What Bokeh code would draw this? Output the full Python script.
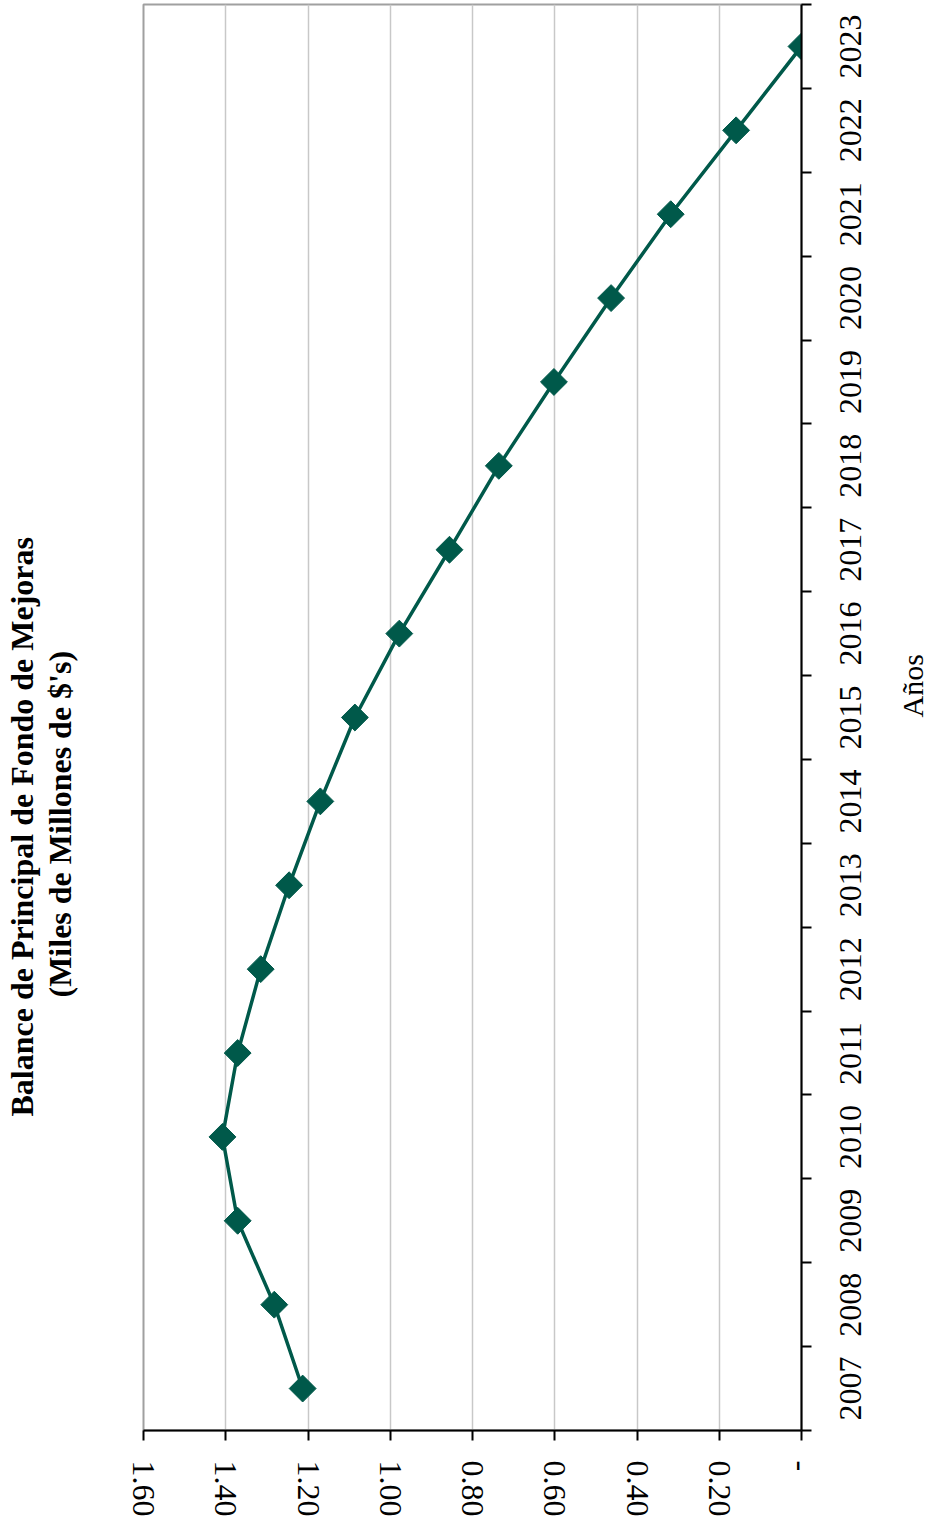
import math
from bokeh.plotting import figure
from bokeh.models import Range1d, FixedTicker, NumeralTickFormatter, Title
from bokeh.embed import file_html
from bokeh.resources import INLINE

# Principal balance of the improvement fund, in billions of dollars
years = [2007, 2008, 2009, 2010, 2011, 2012, 2013, 2014, 2015,
         2016, 2017, 2018, 2019, 2020, 2021, 2022, 2023]
balance = [1.213, 1.282, 1.371, 1.408, 1.371, 1.315, 1.246, 1.170, 1.086,
           0.978, 0.856, 0.736, 0.602, 0.463, 0.318, 0.159, 0.0]
value_ticks = [0.0, 0.2, 0.4, 0.6, 0.8, 1.0, 1.2, 1.4, 1.6]

FONT = "Liberation Serif"
GREEN = "#00594a"
UP = math.pi / 2  # text reading bottom-to-top
LABEL_PX = 32
FRAME_H = 1426

y_lo, y_hi = years[0] - 0.5, years[-1] + 0.5

p = figure(
    frame_width=658, frame_height=FRAME_H,
    x_range=Range1d(1.6, 0.0), y_range=Range1d(y_lo, y_hi),
    y_axis_location="right",
    output_backend="svg", toolbar_location=None,
    min_border_left=143, min_border_top=4, min_border_right=0, min_border_bottom=0,
    background_fill_color="white", border_fill_color="white",
)
p.outline_line_color = "#a0a0a0"
p.outline_line_width = 2

# value axis along the bottom, labels turned to read upward
xa = p.xaxis[0]
xa.ticker = FixedTicker(ticks=value_ticks)
xa.formatter = NumeralTickFormatter(format="0.00")
xa.major_label_overrides = {0: "-"}
xa.major_label_orientation = "vertical"
xa.major_label_text_font = FONT
xa.major_label_text_font_size = f"{LABEL_PX}px"
xa.major_label_text_color = "black"
xa.major_label_standoff = 20
xa.major_tick_in = 0
xa.major_tick_out = 10
xa.minor_tick_out = 0
xa.minor_tick_in = 0
xa.axis_line_color = "black"
xa.axis_line_width = 2
xa.major_tick_line_color = "black"
xa.major_tick_line_width = 2

# Upward-reading labels on a right axis start at their tick, so the year axis
# runs on a copy of the range moved by half a label's length: each name then
# sits centred on its year.
half_label_years = (len(str(years[0])) * 0.5 * LABEL_PX / 2) / (FRAME_H / len(years))
p.extra_y_ranges = {"year_names": Range1d(y_lo + half_label_years, y_hi + half_label_years)}

ya = p.yaxis[0]
ya.y_range_name = "year_names"
ya.ticker = FixedTicker(
    ticks=years,
    minor_ticks=[y + 0.5 + half_label_years for y in [years[0] - 1] + years])
ya.major_label_overrides = {y: str(y) for y in years}
ya.major_label_orientation = UP
ya.major_label_text_font = FONT
ya.major_label_text_font_size = f"{LABEL_PX}px"
ya.major_label_text_color = "black"
ya.major_label_standoff = 39
ya.major_tick_in = 0
ya.major_tick_out = 0
ya.minor_tick_in = 0
ya.minor_tick_out = 10
ya.minor_tick_line_color = "black"
ya.minor_tick_line_width = 2
ya.axis_line_color = "black"
ya.axis_line_width = 2
ya.axis_label = "Años"
ya.axis_label_orientation = UP
ya.axis_label_text_font = FONT
ya.axis_label_text_font_size = "30px"
ya.axis_label_text_font_style = "normal"
ya.axis_label_text_color = "black"
ya.axis_label_standoff = 38

p.xgrid.grid_line_color = "#c8c8c8"
p.xgrid.grid_line_width = 1.5
p.ygrid.grid_line_color = None

p.line(balance, years, line_color=GREEN, line_width=3.5)
p.scatter(balance, years, marker="square", size=19, angle=math.pi / 4,
          fill_color=GREEN, line_color=GREEN)

# two-line heading on the left, with blank room between it and the frame
gap = Title(text=" ", text_font_size="1px", standoff=63)
sub = Title(text="(Miles de Millones de $'s)", align="left", offset=433,
            text_font=FONT, text_font_size="32px", text_font_style="bold",
            text_color="black", standoff=0)
main = Title(text="Balance de Principal de Fondo de Mejoras", align="left", offset=314,
             text_font=FONT, text_font_size="32px", text_font_style="bold",
             text_color="black", standoff=0)
p.add_layout(gap, "left")
p.add_layout(sub, "left")
p.add_layout(main, "left")

open("out.html", "w").write(file_html(p, INLINE))
